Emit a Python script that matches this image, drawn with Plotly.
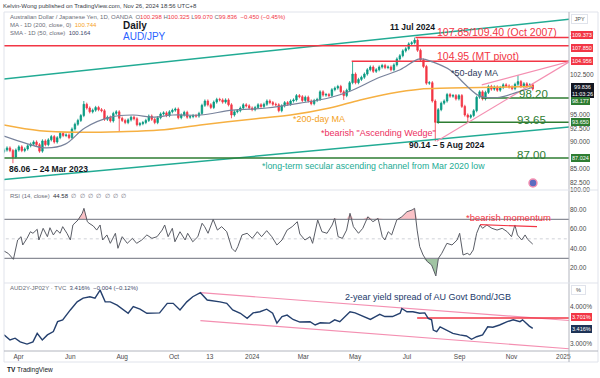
import pandas as pd
import plotly.graph_objects as go

BASE = pd.Timestamp("2023-04-01")

# ---------------- AUD/JPY (sampled about twice a week) ----------------
price_start = "2023-03-15"
price_end = "2024-11-26"
close = [
    88.5, 88.9, 88.4, 87.2, 88.5, 89.1, 88.4, 88.7, 89.3, 89.6,
    90.0, 89.5, 88.3, 90.2, 89.5, 90.4, 91.0, 90.0, 90.8, 91.6,
    91.2, 91.3, 90.8, 92.4, 93.3, 94.0, 94.9, 97.0, 96.3, 95.6,
    95.9, 96.4, 96.0, 95.8, 94.2, 94.6, 93.9, 95.3, 95.6, 94.4,
    94.0, 93.6, 94.1, 94.6, 94.3, 93.2, 93.4, 93.6, 94.0, 94.8,
    94.2, 93.6, 94.5, 95.2, 95.4, 94.9, 95.6, 95.9, 96.1, 94.5,
    95.0, 95.5, 94.6, 94.7, 94.9, 94.8, 95.3, 96.8, 97.6, 96.9,
    96.4, 97.4, 97.9, 97.8, 97.4, 97.8, 96.9, 95.0, 95.6, 95.8,
    96.3, 96.9, 96.7, 96.3, 96.0, 96.4, 96.9, 96.6, 97.0, 97.6,
    97.3, 97.0, 96.9, 95.8, 96.7, 97.3, 97.0, 97.6, 97.8, 98.6,
    98.4, 97.7, 98.3, 97.6, 97.1, 97.7, 97.9, 99.3, 98.7, 98.8,
    98.6, 99.7, 100.0, 100.3, 99.3, 98.6, 99.6, 101.0, 102.6, 101.0,
    101.6, 102.0, 102.6, 103.4, 103.9, 103.1, 103.4, 103.9, 104.2, 103.8,
    103.9, 103.4, 104.3, 105.4, 106.0, 106.9, 107.3, 108.2, 108.4, 108.9,
    107.0, 105.2, 104.0, 100.9, 101.0, 97.6, 93.65, 96.0, 97.2, 97.6,
    98.8, 98.5, 98.6, 98.0, 98.6, 96.6, 95.0, 94.6, 94.9, 95.8,
    98.3, 99.3, 98.0, 99.2, 100.3, 99.8, 100.2, 99.6, 100.1, 100.6,
    100.4, 100.2, 99.9, 100.7, 101.2, 100.3, 100.8, 100.4, 100.6, 99.84,
]
first_open = 88.2
wick = 0.3
extreme_high = {27: 97.6, 118: 104.95, 139: 109.37, 174: 102.4}
extreme_low = {3: 86.06, 39: 92.0, 77: 94.4, 115: 97.8, 146: 90.14, 157: 93.65}

# moving averages (days after 2023-04-01, value)
ma200_day = [-17, 25, 72, 119, 166, 214, 284, 320, 366, 402, 437, 472, 508, 605]
ma200_val = [93.15, 92.1, 91.8, 91.9, 92.2, 93.15, 94.4, 95.0, 96.3, 97.8, 99.0, 99.8, 100.0, 100.3]
sma50_day = [-17, 8, 31, 55, 78, 108, 135, 158, 182, 214, 252, 292, 331, 366, 390, 425,
             449, 472, 488, 508, 528, 543, 566, 586, 605]
sma50_val = [91.1, 89.8, 88.9, 89.6, 92.6, 94.6, 95.0, 94.6, 95.0, 95.0, 95.9, 96.3, 97.2, 98.2,
             99.4, 102.0, 103.4, 105.4, 104.8, 103.3, 100.3, 98.5, 98.3, 99.2, 100.16]

# drawn lines (days, price)
chan_up_day, chan_up_val = [-22, 649], [101.6, 112.8]
chan_lo_day, chan_lo_val = [-22, 649], [82.95, 92.78]
wedge_lo_day, wedge_lo_val = [492, 649], [90.14, 104.956]
wedge_up_day, wedge_up_val = [545, 649], [100.6, 104.956]
red_levels = [107.85, 109.373, 104.956]
red_start = [-22, 467, 392]
green_levels = [98.177, 93.65, 87.024]
green_start = [545, 492, -22]
level_end = 649

# ---------------- RSI (14) ----------------
rsi_day = [-17, -12, -6, -4, -1, 3, 5, 10, 14, 17, 22, 24, 29, 34, 37, 41, 45, 49, 52, 57,
           61, 64, 70, 75, 77, 81, 83, 88, 92, 96, 99, 104, 108, 114, 117, 122, 128, 134, 139, 145,
           151, 157, 163, 169, 172, 176, 181, 184, 190, 196, 199, 205, 211, 216, 219, 223, 229, 234, 239, 245,
           251, 255, 258, 263, 269, 275, 281, 286, 292, 298, 304, 310, 316, 322, 328, 331, 337, 343, 346, 352,
           357, 363, 369, 372, 376, 381, 386, 390, 394, 400, 405, 411, 417, 423, 428, 431, 435, 439, 445, 451,
           457, 463, 466, 469, 472, 476, 481, 486, 491, 494, 498, 504, 510, 516, 519, 523, 528, 531, 535, 539,
           543, 546, 551, 557, 563, 569, 575, 580, 584, 587, 592, 596, 599, 605]
rsi_val = [37.5, 35, 29, 36.8, 48.8, 52.2, 43.7, 50.5, 57.3, 55.7, 59.8, 48.8, 60.8, 52.2, 61.4, 54, 59, 55.7, 62.5, 55.7,
           48.8, 64.2, 69.3, 76.2, 81.3, 67.6, 66, 63.2, 59, 64.2, 48.8, 54, 45.4, 55.7, 40.3, 52.2, 45.4, 50.5, 45.4, 48.8,
           54, 50.5, 52.2, 59, 64.2, 52.2, 60.8, 47, 57.3, 48.8, 55.7, 47, 52.2, 66, 62.5, 55.7, 70, 59, 62.5, 57.3,
           40.3, 36.8, 42, 54, 55.7, 50.5, 57.3, 52.2, 58.4, 52.2, 43.7, 48.8, 59, 62.5, 67.6, 55, 48.8, 52.2, 45.4, 69.3,
           57.3, 55.7, 64.2, 71, 52.2, 50.5, 59, 76.2, 62.5, 55.7, 60.8, 72.7, 67.6, 71, 52.2, 48.8, 57.3, 54, 69.3, 72.7,
           77.8, 79.6, 81.3, 59, 42, 33.4, 26.6, 23.2, 11.9, 30, 35.2, 45.4, 43.7, 48.8, 55.7, 33.4, 35.2, 33.4, 38.6, 55.7,
           64.2, 60.8, 64.2, 60.8, 59, 60.8, 57.3, 52.2, 64.2, 54, 48.8, 54, 49.5, 44.58]
momentum_day, momentum_val = [543, 610], [64.5, 62.5]

# ---------------- AU 2Y - JP 2Y spread ----------------
spread_day = [-17, -10, -4, 2, 10, 17, 22, 28, 34, 41, 46, 52, 61, 69, 76, 84, 90, 96, 102, 108,
              116, 123, 129, 135, 143, 151, 157, 166, 175, 182, 190, 198, 205, 214, 222, 229, 237, 245, 252, 261,
              269, 276, 284, 292, 299, 304, 310, 316, 323, 331, 343, 349, 355, 366, 372, 378, 384, 390, 396, 402,
              414, 420, 425, 431, 440, 449, 451, 457, 464, 472, 478, 482, 486, 488, 492, 496, 504, 511, 519, 527,
              533, 539, 546, 552, 558, 566, 575, 582, 590, 593, 601, 605]
spread_val = [3.24, 3.10, 3.15, 3.05, 2.99, 3.05, 3.28, 3.10, 3.24, 3.33, 3.60, 3.65, 3.92, 4.14, 4.24, 4.28, 4.24, 4.46, 4.14, 4.14,
              4.05, 3.94, 3.83, 4.01, 3.94, 3.83, 3.84, 3.84, 4.10, 4.10, 3.92, 4.14, 4.28, 4.39, 4.19, 4.17, 4.14, 4.10, 3.92, 3.83,
              3.69, 3.84, 3.87, 3.94, 3.83, 3.56, 3.74, 3.78, 3.66, 3.59, 3.60, 3.51, 3.57, 3.56, 3.65, 3.60, 3.74, 3.87, 3.84, 3.78,
              3.66, 3.74, 3.80, 3.74, 3.74, 3.83, 3.96, 3.87, 3.87, 3.83, 3.84, 3.69, 3.65, 3.37, 3.33, 3.46, 3.37, 3.28, 3.24, 3.21,
              3.12, 3.19, 3.24, 3.46, 3.45, 3.51, 3.60, 3.65, 3.60, 3.65, 3.48, 3.416]
sp_up_day, sp_up_val = [214, 649], [4.39, 3.63]
sp_lo_day, sp_lo_val = [214, 649], [3.63, 2.86]
sp_level, sp_level_start = 3.701, 469

# axis ticks
time_tick_dates = ["2023-04-01", "2023-06-01", "2023-08-01", "2023-10-01", "2023-11-12", "2024-01-01",
                   "2024-03-01", "2024-05-01", "2024-07-01", "2024-09-01", "2024-11-01", "2025-01-01"]
time_tick_text = ["Apr", "Jun", "Aug", "Oct", "13", "2024", "Mar", "May", "Jul", "Sep", "Nov", "2025"]
price_ticks = [82.5, 85, 90, 92.5, 95, 102.5, 110]
rsi_ticks = [20, 40, 60, 80, 100]
spread_ticks = [3.0, 4.0]

# ---------------- build ----------------
UP, DN = "#089981", "#f23645"
RED, GREEN, TEAL = "#f23645", "#2e7d32", "#22ab94"
FONT = "Liberation Sans, Arial, sans-serif"


def days(ds):
    return [BASE + pd.Timedelta(days=float(d)) for d in ds]


price_dates = pd.date_range(price_start, price_end, periods=len(close))
opens = [first_open] + close[:-1]
highs, lows = [], []
for i, (o, c) in enumerate(zip(opens, close)):
    highs.append(extreme_high.get(i, max(o, c) + wick))
    lows.append(extreme_low.get(i, min(o, c) - wick))

fig = go.Figure()


def line(xd, yv, color, width, axis, dash="solid", shape="linear"):
    fig.add_trace(go.Scatter(x=days(xd), y=yv, mode="lines", line=dict(color=color, width=width, dash=dash, shape=shape),
                             xaxis=axis[0], yaxis=axis[1], showlegend=False, hoverinfo="skip"))


M, R, S = ("x", "y"), ("x2", "y2"), ("x3", "y3")

# main pane lines
line(chan_up_day, chan_up_val, TEAL, 1.5, M)
line(chan_lo_day, chan_lo_val, TEAL, 1.5, M)
for v, s in zip(red_levels, red_start):
    line([s, level_end], [v, v], RED, 1.5, M)
for v, s in zip(green_levels, green_start):
    line([s, level_end], [v, v], GREEN, 1.5, M)
line(wedge_lo_day, wedge_lo_val, "#f48fb1", 1.2, M)
line(wedge_up_day, wedge_up_val, "#f48fb1", 1.2, M)
line(ma200_day, ma200_val, "#f6b042", 1.5, M, shape="spline")
line(sma50_day, sma50_val, "#78839c", 1.2, M, shape="spline")

fig.add_trace(go.Candlestick(
    x=price_dates, open=opens, high=highs, low=lows, close=close,
    increasing=dict(line=dict(color=UP, width=0.8), fillcolor=UP),
    decreasing=dict(line=dict(color=DN, width=0.8), fillcolor=DN),
    whiskerwidth=0, xaxis="x", yaxis="y", showlegend=False, hoverinfo="skip"))

# RSI pane
rsi_x = days(rsi_day)
fig.add_trace(go.Scatter(x=rsi_x, y=[70] * len(rsi_val), mode="lines", line=dict(width=0),
                         xaxis="x2", yaxis="y2", showlegend=False, hoverinfo="skip"))
fig.add_trace(go.Scatter(x=rsi_x, y=[max(v, 70) for v in rsi_val], mode="lines", line=dict(width=0),
                         fill="tonexty", fillcolor="rgba(242,54,69,0.30)",
                         xaxis="x2", yaxis="y2", showlegend=False, hoverinfo="skip"))
fig.add_trace(go.Scatter(x=rsi_x, y=[30] * len(rsi_val), mode="lines", line=dict(width=0),
                         xaxis="x2", yaxis="y2", showlegend=False, hoverinfo="skip"))
fig.add_trace(go.Scatter(x=rsi_x, y=[min(v, 30) for v in rsi_val], mode="lines", line=dict(width=0),
                         fill="tonexty", fillcolor="rgba(46,125,50,0.45)",
                         xaxis="x2", yaxis="y2", showlegend=False, hoverinfo="skip"))
line([-22, level_end], [70, 70], "#8a8d96", 1.2, R)
line([-22, level_end], [30, 30], "#8a8d96", 1.2, R)
line([-22, level_end], [50, 50], "#d0d2d8", 1, R, dash="dot")
line(rsi_day, rsi_val, "#5a5d66", 1, R)
line(momentum_day, momentum_val, RED, 1.2, R)

# spread pane
line(sp_up_day, sp_up_val, "#f48fb1", 1.2, S)
line(sp_lo_day, sp_lo_val, "#f48fb1", 1.2, S)
line([sp_level_start, level_end], [sp_level, sp_level], RED, 1.5, S)
line(spread_day, spread_val, "#25406e", 1.4, S)

XR = [BASE + pd.Timedelta(days=-17.06), BASE + pd.Timedelta(days=647.65)]
ax_common = dict(range=XR, type="date", showgrid=False, zeroline=False, showline=False, fixedrange=True)
tickfont = dict(family=FONT, size=6.5, color="#4a4a4a")
y_common = dict(side="right", showgrid=False, zeroline=False, showline=False, ticks="",
                tickfont=tickfont, automargin=False, fixedrange=True)


def pw(X, Y):
    return (X - 4) / 565, (351 - Y) / 339


fig.update_layout(
    width=600, height=378, margin=dict(l=4, r=31, t=12, b=27),
    paper_bgcolor="white", plot_bgcolor="white",
    xaxis=dict(domain=[0, 1], anchor="y", showticklabels=False, rangeslider=dict(visible=False), **ax_common),
    xaxis2=dict(domain=[0, 1], anchor="y2", showticklabels=False, **ax_common),
    xaxis3=dict(domain=[0, 1], anchor="y3", tickvals=[pd.Timestamp(d) for d in time_tick_dates],
                ticktext=time_tick_text, tickfont=tickfont, ticks="", automargin=False, **ax_common),
    yaxis=dict(domain=[0.4749, 1], range=[81.09, 114.11], tickvals=price_ticks,
               ticktext=[f"{v:.3f}" for v in price_ticks], **y_common),
    yaxis2=dict(domain=[0.2006, 0.4749], range=[4.7, 100.1], tickvals=rsi_ticks,
                ticktext=[f"{v:.2f}" for v in rsi_ticks], **y_common),
    yaxis3=dict(domain=[0, 0.2006], range=[2.801, 4.654], tickvals=spread_ticks,
                ticktext=[f"{v:.3f}%" for v in spread_ticks], **y_common),
    showlegend=False,
)

# frame / separators
border = "#e0e3eb"
shapes = [
    dict(type="rect", xref="paper", yref="paper", x0=0, x1=pw(598, 0)[0], y0=pw(0, 362)[1], y1=1,
         line=dict(color=border, width=1)),
    dict(type="line", xref="paper", yref="paper", x0=1, x1=1, y0=pw(0, 362)[1], y1=1, line=dict(color="#b2b5be", width=1)),
    dict(type="line", xref="paper", yref="paper", x0=0, x1=pw(598, 0)[0], y0=0.4749, y1=0.4749, line=dict(color=border, width=1)),
    dict(type="line", xref="paper", yref="paper", x0=0, x1=pw(598, 0)[0], y0=0.2006, y1=0.2006, line=dict(color=border, width=1)),
    dict(type="line", xref="paper", yref="paper", x0=0, x1=pw(598, 0)[0], y0=0, y1=0, line=dict(color="#b2b5be", width=1)),
    dict(type="circle", xref="paper", yref="paper", x0=pw(529, 0)[0], x1=pw(537, 0)[0], y0=pw(0, 187)[1], y1=pw(0, 179)[1],
         line=dict(color="#f48fb1", width=1.5), fillcolor="#5c6bc0"),
]
fig.update_layout(shapes=shapes)

ann = []


def text(X, Y, s, size=9, color="#131722", anchor="center", bold=False, family=FONT):
    px, py = pw(X, Y)
    ann.append(dict(xref="paper", yref="paper", x=px, y=py, xanchor=anchor, yanchor="middle", showarrow=False,
                    text=f"<b>{s}</b>" if bold else s, font=dict(family=family, size=size, color=color)))


GRAY = "#6a6d78"
text(1, 5.7, "Kelvin-Wong published on TradingView.com, Nov 26, 2024 18:56 UTC+8", 6, "#363a45", "left")
text(8, 16.7, f"<span style='color:{GRAY}'>Australian Dollar / Japanese Yen, 1D, OANDA  O</span>100.298"
     f"<span style='color:{GRAY}'> H</span>100.325<span style='color:{GRAY}'> L</span>99.070"
     f"<span style='color:{GRAY}'> C</span>99.836  −0.450 (−0.45%)", 6, RED, "left")
text(8, 25, f"<span style='color:{GRAY}'>MA - 1D (200, close, 0)  </span>100.744", 6, "#f6a21e", "left")
text(8, 32.7, f"<span style='color:{GRAY}'>SMA - 1D (50, close)  </span>100.164", 6, "#3d4a6b", "left")
text(8, 195.7, f"<span style='color:{GRAY}'>RSI (14, close)  </span>44.58<span style='color:{GRAY}'>  ∅  ∅  ∅  ∅  ∅  ∅  ∅</span>",
     6, "#2a2e39", "left")
text(8, 288.3, f"<span style='color:{GRAY}'>AUD2Y-JP02Y · TVC  </span>3.416%  −0.004 (−0.12%)", 6, "#3d4a6b", "left")

text(121, 25.5, "Daily", 10, "#131722", "left", bold=True)
text(121, 36.5, "AUD/JPY", 10, "#2962ff", "left")
text(412.5, 27, "11 Jul 2024", 8.5, "#131722", bold=True)
text(496.5, 32, "107.85/109.40 (Oct 2007)", 10.5, RED)
text(477.5, 56, "104.95 (MT pivot)", 10.5, RED)
text(474.5, 73, "*50-day MA", 9, "#2f3b5c")
text(319, 119, "*200-day MA", 9, "#f4a11d")
text(378.5, 133, "*bearish \"Ascending Wedge\"", 9, "#ec2f5f")
text(446.5, 145, "90.14 – 5 Aug 2024", 8.5, "#131722", bold=True)
text(48, 168.5, "86.06 – 24 Mar 2023", 8.5, "#131722", bold=True)
text(373.5, 166, "*long-term secular ascending channel from Mar 2020 low", 8.8, TEAL)
text(533.5, 94, "98.20", 11.5, GREEN)
text(531, 120, "93.65", 11.5, GREEN)
text(531, 155, "87.00", 11.5, GREEN)
text(509, 217, "*bearish momentum", 9.5, RED)
text(427.5, 296.5, "2-year yield spread of AU Govt Bond/JGB", 9, "#22396a")
text(5, 369.5, "<b>TV</b> TradingView", 6.5, "#131722", "left")


# boxes on the axis
def box(yref, y, s, bg, fg="white", yshift=0, border=None):
    ann.append(dict(xref="paper", yref=yref, x=1.003, y=y, xanchor="left", yanchor="middle", showarrow=False,
                    text=s, font=dict(family=FONT, size=5.5, color=fg), bgcolor=bg, borderpad=1, yshift=yshift,
                    bordercolor=border or bg, borderwidth=1 if border else 0))


box("y", 109.373, "109.373", RED, yshift=2.5)
box("y", 107.85, "107.850", RED, yshift=-2)
box("y", 104.956, "104.956", RED)
box("y", 99.836, "99.836<br>11:03:26", "#131722", yshift=-2)
box("y", 98.177, "98.177", GREEN, yshift=-3)
box("y", 93.65, "93.650", GREEN)
box("y", 87.024, "87.024", GREEN)
box("y3", 3.701, "3.701%", RED, yshift=1)
box("y3", 3.416, "3.416%", "#1e3356", yshift=-1)
box("paper", pw(0, 19)[1], " JPY ", "white", fg="#4a4a4a", border=border)
box("paper", pw(0, 290)[1], "  %  ", "white", fg="#4a4a4a", border=border)

fig.update_layout(annotations=ann)
fig.write_html("out.html", config={"displayModeBar": False},
               post_script="document.body.style.margin='0';document.body.style.padding='0';")
